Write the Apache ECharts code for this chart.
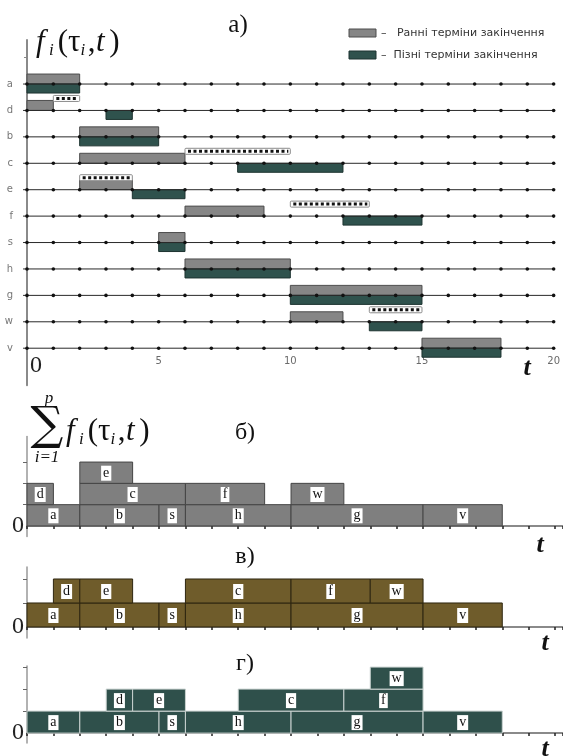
<!DOCTYPE html>
<html><head><meta charset="utf-8">
<script src="https://cdn.jsdelivr.net/npm/echarts@6/dist/echarts.min.js"></script>
<style>html,body{margin:0;padding:0;background:#fff}#c{width:563px;height:756px}</style>
</head><body><div id="c"></div>
<script>
// ---- chart a): task rows, early / late finish and reserve ----
const rows = ['a','d','b','c','e','f','s','h','g','w','v'];
const earlyStart = [0,0,2,2,2,6,5,6,10,10,15];
const earlyEnd   = [2,1,5,6,4,9,6,10,15,12,18];
const lateStart  = [0,3,2,8,4,12,5,6,10,13,15];
const lateEnd    = [2,4,5,12,6,15,6,10,15,15,18];
const reserveTask  = ['d','c','e','f','w'];
const reserveStart = [1,6,2,10,13];
const reserveEnd   = [2,10,4,13,15];
const xTickLabels  = [5,10,15,20];

// ---- chart б) ----
const bLabels = ['a','b','s','h','g','v','d','c','f','w','e'];
const bStart  = [0,2,5,6,10,15,0,2,6,10,2];
const bEnd    = [2,5,6,10,15,18,1,6,9,12,4];
const bLevel  = [1,1,1,1,1,1,2,2,2,2,3];
// ---- chart в) ----
const vLabels = ['a','b','s','h','g','v','d','e','c','f','w'];
const vStart  = [0,2,5,6,10,15,1,2,6,10,13];
const vEnd    = [2,5,6,10,15,18,2,4,10,13,15];
const vLevel  = [1,1,1,1,1,1,2,2,2,2,2];
// ---- chart г) ----
const gLabels = ['a','b','s','h','g','v','d','e','c','f','w'];
const gStart  = [0,2,5,6,10,15,3,4,8,12,13];
const gEnd    = [2,5,6,10,15,18,4,6,12,15,15];
const gLevel  = [1,1,1,1,1,1,2,2,2,2,3];

const SERIF = '"Liberation Serif", "DejaVu Serif", serif';
const SANS = '"DejaVu Sans", "Noto Sans", sans-serif';

const chart = echarts.init(document.getElementById('c'), null, {renderer:'canvas'});

function rowIndex(t){ return rows.indexOf(t); }

function earlyRender(params, api){
  const s = api.coord([api.value(0), api.value(2)]);
  const e = api.coord([api.value(1), api.value(2)]);
  return {type:'rect', shape:{x:s[0], y:s[1]-10, width:e[0]-s[0], height:10},
    style:{fill:'#868686', stroke:'#4d4d4d', lineWidth:1}};
}
function lateRender(params, api){
  const s = api.coord([api.value(0), api.value(2)]);
  const e = api.coord([api.value(1), api.value(2)]);
  return {type:'rect', shape:{x:s[0], y:s[1], width:e[0]-s[0], height:9},
    style:{fill:'#2f524d', stroke:'#1d3330', lineWidth:1}};
}
function reserveRender(params, api){
  const s = api.coord([api.value(0), api.value(2)]);
  const e = api.coord([api.value(1), api.value(2)]);
  const y = s[1]-15;
  return {type:'group', children:[
    {type:'rect', shape:{x:s[0], y:y, width:e[0]-s[0], height:6, r:1},
      style:{fill:'#fff', stroke:'#8c8c8c', lineWidth:1}},
    {type:'line', shape:{x1:s[0]+3, y1:y+3, x2:e[0]-2, y2:y+3},
      style:{stroke:'#111', lineWidth:3, lineDash:[3,2.5]}}
  ]};
}
function rowRender(params, api){
  const r = api.value(0);
  const a = api.coord([-0.15, r]);
  const b = api.coord([20, r]);
  const ch = [{type:'line', shape:{x1:a[0], y1:a[1], x2:b[0], y2:b[1]}, style:{stroke:'#2a2a2a', lineWidth:1}}];
  for (let k = 0; k <= 20; k++) {
    const p = api.coord([k, r]);
    ch.push({type:'circle', shape:{cx:p[0], cy:p[1], r:1.8}, style:{fill:'#111'}});
  }
  return {type:'group', children:ch};
}
function blockRender(labels, fill, stroke){
  return function(params, api){
    const p0 = api.coord([api.value(0), api.value(2)-1]);
    const p1 = api.coord([api.value(1), api.value(2)]);
    return {type:'group', children:[
      {type:'rect', shape:{x:p0[0], y:p1[1], width:p1[0]-p0[0], height:p0[1]-p1[1]},
        style:{fill:fill, stroke:stroke, lineWidth:1}},
      {type:'text', x:(p0[0]+p1[0])/2, y:(p0[1]+p1[1])/2+0.5,
        style:{text:labels[params.dataIndex], font:'14px '+SERIF, fill:'#111',
          align:'center', verticalAlign:'middle', backgroundColor:'#fff', padding:[1,2,0,2]}}
    ]};
  };
}

function bottomX(gi){
  return {gridIndex:gi, type:'value', min:0, max:20.3, interval:1,
    axisLine:{show:true, onZero:true, lineStyle:{color:'#8a8a8a', width:2}},
    axisTick:{show:true, length:3, inside:false, lineStyle:{color:'#222', width:1.5}},
    axisLabel:{show:false}, splitLine:{show:false}};
}
function bottomY(gi, mn, mx, ticks){
  return {gridIndex:gi, type:'value', min:mn, max:mx,
    axisLine:{show:true, lineStyle:{color:'#999', width:1.5}},
    axisTick:{show:true, length:4, customValues:ticks, lineStyle:{color:'#666'}},
    axisLabel:{show:true, customValues:[0], formatter:function(){return '0';},
      fontFamily:SERIF, fontSize:24, color:'#222', margin:3},
    splitLine:{show:false}};
}

function formulaPieces(x0, yMain, ySub, big, small){
  const parts = [
    ['f', 0, true, false], ['i', 12.5, true, true], ['(', 21, false, false], ['τ', 31, false, false],
    ['i', 43, true, true], [',', 50, false, false], ['t', 58, true, false], [')', 71, false, false]
  ];
  return parts.map(p => ({type:'text', x:x0 + p[1]*big/30, y:p[3]?ySub:yMain, silent:true, z:100,
    style:{text:p[0], font:(p[2]?'italic ':'')+(p[3]?small:big)+'px '+SERIF, fill:'#111',
      align:'left', verticalAlign:'middle'}}));
}

function txt(x, y, s, font, align){
  return {type:'text', x:x, y:y, z:100, silent:true,
    style:{text:s, font:font, fill:'#111', align:align||'center', verticalAlign:'middle'}};
}

const graphics = [].concat(
  [txt(238, 25, 'а)', '25px '+SERIF)],
  formulaPieces(36, 43, 51, 31, 17),
  [
    {type:'rect', z:100, shape:{x:349, y:29, width:27, height:8}, style:{fill:'#868686', stroke:'#4d4d4d', lineWidth:1}},
    {type:'text', z:100, x:381, y:33, style:{text:'–   Ранні терміни закінчення', font:'11px '+SANS, fill:'#333', align:'left', verticalAlign:'middle'}},
    {type:'rect', z:100, shape:{x:349, y:51, width:27, height:8}, style:{fill:'#2f524d', stroke:'#1d3330', lineWidth:1}},
    {type:'text', z:100, x:381, y:55, style:{text:'–  Пізні терміни закінчення', font:'11px '+SANS, fill:'#333', align:'left', verticalAlign:'middle'}},
    {type:'text', z:100, x:36, y:366, style:{text:'0', font:'24px '+SERIF, fill:'#222', align:'center', verticalAlign:'middle'}},
    txt(527, 368, 't', 'bold italic 26px '+SERIF),
    // б)
    txt(245, 433, 'б)', '24px '+SERIF),
    {type:'text', z:100, x:47, y:427, style:{text:'∑', font:'46px "DejaVu Serif", serif', fill:'#111', align:'center', verticalAlign:'middle'}},
    txt(49, 399, 'p', 'italic 17px '+SERIF),
    txt(47, 458, 'i=1', 'italic 17px '+SERIF)
  ],
  formulaPieces(66, 432, 440, 31, 17),
  [
    txt(540, 545, 't', 'bold italic 26px '+SERIF),
    txt(245, 557, 'в)', '24px '+SERIF),
    txt(545, 643, 't', 'bold italic 26px '+SERIF),
    txt(245, 664, 'г)', '24px '+SERIF),
    txt(545, 749, 't', 'bold italic 26px '+SERIF)
  ]
);

const option = {
  animation:false,
  backgroundColor:'#fff',
  grid:[
    {left:27, top:40, width:528, height:345.2},
    {left:27, top:436.5, width:536, height:100.1},
    {left:27, top:567, width:536, height:71},
    {left:27, top:666, width:536, height:77}
  ],
  xAxis:[
    {gridIndex:0, type:'value', min:0, max:20, interval:5, offset:-37,
      axisLine:{show:false}, axisTick:{show:false}, splitLine:{show:false},
      axisLabel:{show:true, margin:8, fontFamily:SANS, fontSize:10, color:'#6a6a6a',
        customValues:xTickLabels, formatter:function(v){return String(v);}}},
    bottomX(1), bottomX(2), bottomX(3)
  ],
  yAxis:[
    {gridIndex:0, type:'value', inverse:true, min:-1.6667, max:11.4,
      axisLine:{show:true, onZero:false, lineStyle:{color:'#8a8a8a', width:2}},
      axisTick:{show:true, customValues:[-1], length:3, lineStyle:{color:'#888'}},
      axisLabel:{show:true, customValues:rows.map((r,i)=>i), formatter:function(v){return rows[Math.round(v)] || '';},
        fontFamily:SANS, fontSize:10, color:'#777', margin:14},
      splitLine:{show:false}},
    bottomY(1, -0.5, 4.2, [1,2,3]),
    bottomY(2, -0.46, 2.5, [1,2]),
    bottomY(3, -0.45, 3.05, [1,2,3])
  ],
  graphic:{elements:graphics},
  series:[
    {type:'custom', xAxisIndex:0, yAxisIndex:0, renderItem:earlyRender, clip:false, z:2,
      data:rows.map((r,i)=>[earlyStart[i], earlyEnd[i], i])},
    {type:'custom', xAxisIndex:0, yAxisIndex:0, renderItem:lateRender, clip:false, z:2,
      data:rows.map((r,i)=>[lateStart[i], lateEnd[i], i])},
    {type:'custom', xAxisIndex:0, yAxisIndex:0, renderItem:reserveRender, clip:false, z:2,
      data:reserveTask.map((t,k)=>[reserveStart[k], reserveEnd[k], rowIndex(t)])},
    {type:'custom', xAxisIndex:0, yAxisIndex:0, renderItem:rowRender, clip:false, z:3,
      data:rows.map((r,i)=>[i])},
    {type:'custom', xAxisIndex:1, yAxisIndex:1, renderItem:blockRender(bLabels, '#7f7f7f', '#454545'), clip:false,
      data:bLabels.map((l,i)=>[bStart[i], bEnd[i], bLevel[i]])},
    {type:'custom', xAxisIndex:2, yAxisIndex:2, renderItem:blockRender(vLabels, '#6f5c2b', '#2e2610'), clip:false,
      data:vLabels.map((l,i)=>[vStart[i], vEnd[i], vLevel[i]])},
    {type:'custom', xAxisIndex:3, yAxisIndex:3, renderItem:blockRender(gLabels, '#2f504b', '#c9d2d0'), clip:false,
      data:gLabels.map((l,i)=>[gStart[i], gEnd[i], gLevel[i]])}
  ]
};
chart.setOption(option);
</script>
</body></html>
